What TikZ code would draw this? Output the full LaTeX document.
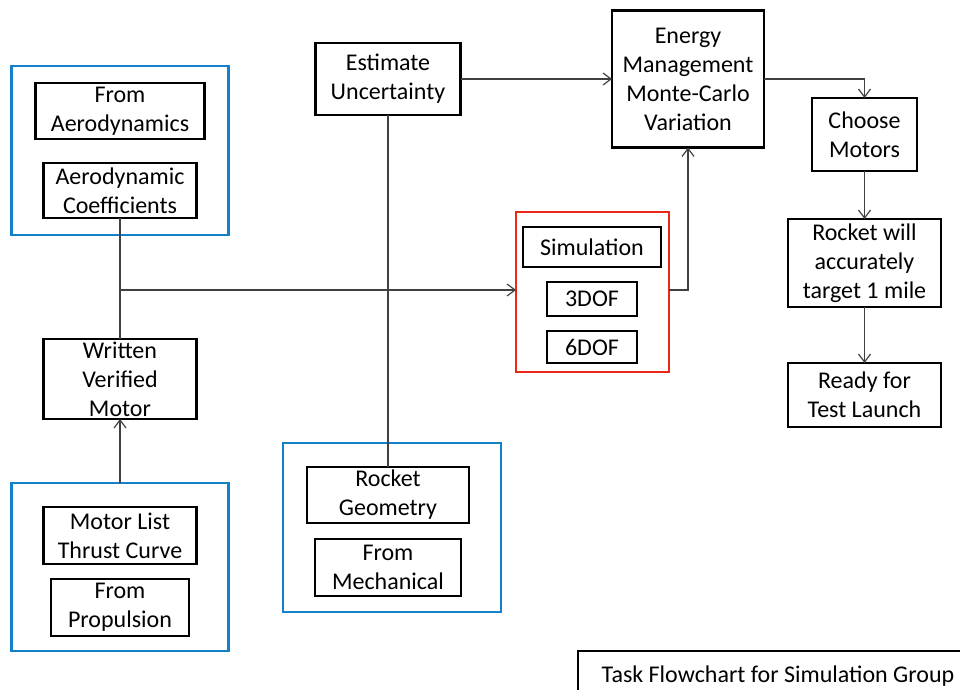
\documentclass[tikz,border=0pt]{standalone}
\usepackage{fontspec}
\setmainfont{Carlito}
\usetikzlibrary{arrows.meta,positioning}
\definecolor{groupblue}{RGB}{20,130,200}
\definecolor{groupred}{RGB}{232,40,24}
\begin{document}
\begin{tikzpicture}[
    x=0.5pt, y=-0.5pt,
    font=\fontsize{12}{14.5}\selectfont,
    task/.style={rectangle, draw, line width=1.4pt, align=center, inner sep=0pt, outer sep=0pt},
    group/.style={rectangle, draw=groupblue, line width=1.4pt, inner sep=0pt, outer sep=0pt},
    simgroup/.style={rectangle, draw=groupred, line width=1.4pt, inner sep=0pt, outer sep=0pt},
    link/.style={draw=black!75, line width=0.6pt},
    arrow/.style={link, -{Straight Barb[length=4pt,width=6pt]}}
]
    \useasboundingbox (0,0) rectangle (960,690);

    % Input groups
    \node [group, minimum width=108.5pt, minimum height=84.5pt] (aerogroup) at (120,150.5) {};
    \node [task, minimum width=84.5pt, minimum height=28pt] (fromaero) at (120,111) {From\\Aerodynamics};
    \node [task, minimum width=76.5pt, minimum height=27.5pt, below=12pt of fromaero] (aerocoef) {Aerodynamic\\Coefficients};

    \node [group, minimum width=108.5pt, minimum height=84pt] (motorgroup) at (120,567) {};
    \node [task, minimum width=76.5pt, minimum height=28.5pt] (motorlist) at (120,535.5) {Motor List\\Thrust Curve};
    \node [task, minimum width=69pt, minimum height=28.5pt, below=7.5pt of motorlist] (fromprop) {From\\Propulsion};

    \node [group, minimum width=109pt, minimum height=84.5pt] (geomgroup) at (392,527.5) {};
    \node [task, minimum width=81pt, minimum height=28pt] (rocketgeo) at (388,495) {Rocket\\Geometry};
    \node [task, minimum width=73pt, minimum height=28.5pt, below=8pt of rocketgeo] (frommech) {From\\Mechanical};

    % Processing
    \node [task, minimum width=76.5pt, minimum height=40pt] (written) at (120,379) {Written\\Verified\\Motor};
    \node [task, minimum width=72.5pt, minimum height=36pt] (estimate) at (388,79) {Estimate\\Uncertainty};
    \node [task, minimum width=76pt, minimum height=68.5pt] (energy) at (688,79) {Energy\\Management\\Monte-Carlo\\Variation};

    % Simulation
    \node [simgroup, minimum width=76.5pt, minimum height=80pt] (simbox) at (592.5,292) {};
    \node [task, minimum width=69pt, minimum height=20pt] (sim) at (592,247) {Simulation};
    \node [task, minimum width=45pt, minimum height=17pt, below=7.5pt of sim] (dof3) {3DOF};
    \node [task, minimum width=45pt, minimum height=16pt, below=7.5pt of dof3] (dof6) {6DOF};

    % Outcome
    \node [task, minimum width=52.5pt, minimum height=36.5pt] (choose) at (864.5,134.5) {Choose\\Motors};
    \node [task, minimum width=76.5pt, minimum height=44pt, below=24pt of choose] (rocketwill) {Rocket will\\accurately\\target 1 mile};
    \node [task, minimum width=76.5pt, minimum height=32pt, below=28pt of rocketwill] (ready) {Ready for\\Test Launch};

    % Title
    \node [task, minimum width=200pt, minimum height=25pt] (title) at (778,676) {Task Flowchart for Simulation Group};

    % Connections
    \coordinate (split) at (120,290);
    \draw [link] (aerocoef.south) -- (written.north);
    \draw [arrow] (split) -- (split -| simbox.west);
    \draw [arrow] (motorgroup.north) -- (written.south);
    \draw [link] (estimate.south) -- (rocketgeo.north);
    \draw [arrow] (estimate.east) -- (energy.west);
    \draw [arrow] (simbox.east |- split) -| (energy.south);
    \draw [arrow] (energy.east) -| (choose.north);
    \draw [arrow] (choose) -- (rocketwill);
    \draw [arrow] (rocketwill) -- (ready);
\end{tikzpicture}
\end{document}
